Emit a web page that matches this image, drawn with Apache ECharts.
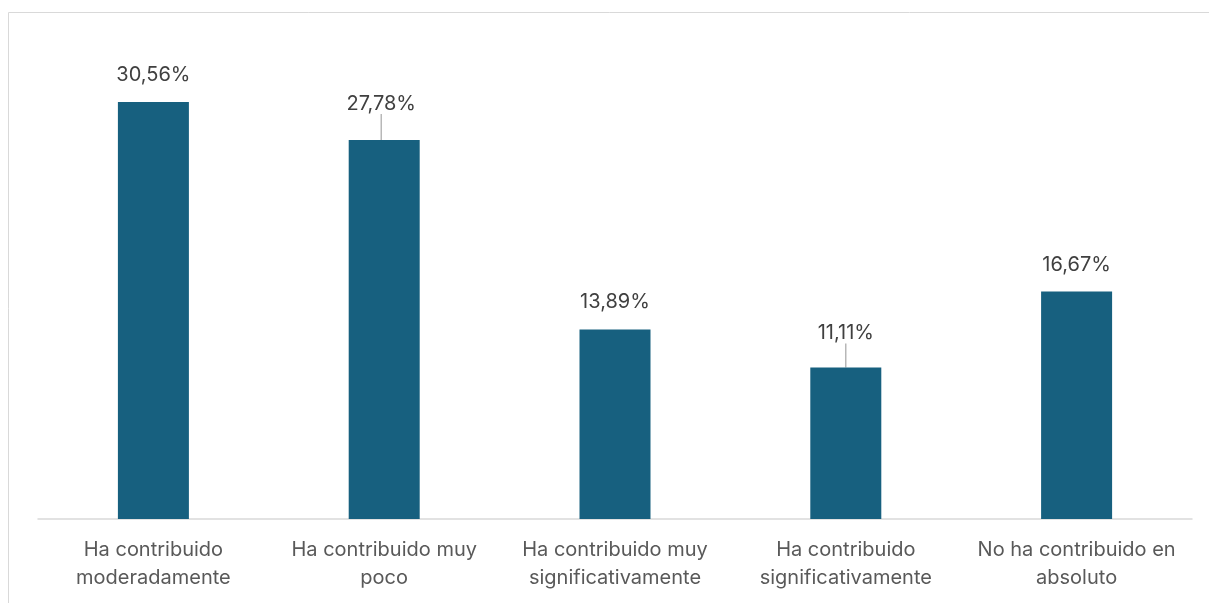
<!DOCTYPE html>
<html>
<head>
<meta charset="utf-8">
<script src="https://cdn.jsdelivr.net/npm/echarts@6/dist/echarts.min.js"></script>
<style>
  html, body { margin: 0; padding: 0; background: #fff; }
  #chart { width: 1209px; height: 603px; }
</style>
</head>
<body>
<div id="chart"></div>
<script>
const categories = [
  'Ha contribuido\nmoderadamente',
  'Ha contribuido muy\npoco',
  'Ha contribuido muy\nsignificativamente',
  'Ha contribuido\nsignificativamente',
  'No ha contribuido en\nabsoluto'
]
const values = [30.56, 27.78, 13.89, 11.11, 16.67]
// labels that were pushed up, drawn with a leader line
const labelShift = { 1: { dx: -3, dy: -9 }, 3: { dx: 0, dy: -7 } }

const chart = echarts.init(document.getElementById('chart'))
const font = 'Inter, "Open Sans", sans-serif'

chart.setOption({
  animation: false,
  graphic: [
    {
      type: 'rect',
      silent: true,
      shape: { x: 8.5, y: 12.5, width: 1400, height: 800 },
      style: { fill: 'none', stroke: '#d9d9d9', lineWidth: 1 }
    }
  ],
  grid: {
    left: 38,
    right: 17,
    top: 41.4,
    bottom: 84
  },
  xAxis: {
    type: 'category',
    data: categories,
    axisLine: { lineStyle: { color: '#d9d9d9', width: 1.5 } },
    axisTick: { show: false },
    axisLabel: {
      color: '#595959',
      fontSize: 20,
      lineHeight: 28,
      margin: 17,
      fontFamily: font,
      interval: 0
    }
  },
  yAxis: {
    type: 'value',
    min: 0,
    max: 35,
    show: false,
    splitLine: { show: false }
  },
  series: [
    {
      type: 'bar',
      data: values.map((v, i) => ({
        value: v,
        labelLine: { show: !!labelShift[i] }
      })),
      barWidth: 71,
      itemStyle: { color: '#17607F' },
      label: {
        show: true,
        position: 'top',
        distance: 17,
        color: '#404040',
        fontSize: 20,
        fontFamily: font,
        formatter: p => p.value.toFixed(2).replace('.', ',') + '%'
      },
      labelLine: {
        lineStyle: { color: '#a6a6a6', width: 1.2 }
      },
      labelLayout: p => labelShift[p.dataIndex] || {}
    }
  ]
})
</script>
</body>
</html>
